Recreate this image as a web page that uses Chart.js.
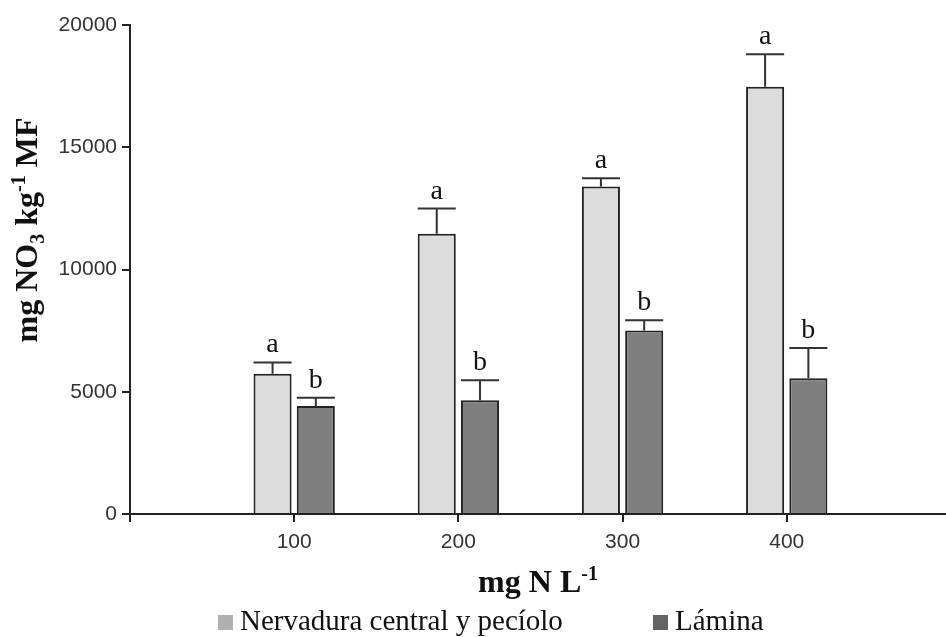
<!DOCTYPE html>
<html>
<head>
<meta charset="utf-8">
<script src="https://cdn.jsdelivr.net/npm/chart.js@4.4.0/dist/chart.umd.min.js"></script>
<style>
  html, body { margin: 0; padding: 0; background: #fff; }
  #wrap { width: 946px; height: 637px; position: relative; }
</style>
</head>
<body>
<div id="wrap"><canvas id="nitrateChart"></canvas></div>
<script>
// DATA
const doses = [100, 200, 300, 400];
const seriesNames = ["Nervadura central y pecíolo", "Lámina"];
const nervadura = [5740, 11460, 13390, 17470];
const nervaduraErr = [460, 1030, 340, 1330];
const nervaduraLetters = ["a", "a", "a", "a"];
const lamina = [4420, 4650, 7510, 5550];
const laminaErr = [330, 820, 410, 1240];
const laminaLetters = ["b", "b", "b", "b"];
const yTicks = [0, 5000, 10000, 15000, 20000];

const SERIF = "'Liberation Serif', 'Times New Roman', serif";
const SANS = "'Liberation Sans', Arial, sans-serif";
const INK = "#222";

// text with sub/superscript pieces, drawn left to right from x
function richWidth(ctx, parts, size) {
    let w = 0;
    parts.forEach(p => {
        ctx.font = (p.bold ? "bold " : "") + ((p.sub || p.sup) ? Math.round(size * 0.62) : size) + "px " + SERIF;
        w += ctx.measureText(p.t).width;
    });
    return w;
}

function drawRich(ctx, parts, x, y, size) {
    parts.forEach(p => {
        const s = (p.sub || p.sup) ? Math.round(size * 0.62) : size;
        ctx.font = (p.bold ? "bold " : "") + s + "px " + SERIF;
        let dy = 0;
        if (p.sub) dy = size * 0.22;
        if (p.sup) dy = -size * 0.38;
        ctx.fillText(p.t, x, y + dy);
        x += ctx.measureText(p.t).width;
    });
}

// error bars (upper only) + significance letters
const errorBars = {
    id: "errorBars",
    afterDatasetsDraw(chart) {
        const ctx = chart.ctx;
        const yScale = chart.scales.y;
        ctx.save();
        chart.data.datasets.forEach((ds, i) => {
            const meta = chart.getDatasetMeta(i);
            meta.data.forEach((bar, j) => {
                const v = ds.data[j].y;
                const capY = yScale.getPixelForValue(v + ds.errors[j]);
                const half = bar.width / 2;
                ctx.strokeStyle = "#333";
                ctx.lineWidth = 2;
                ctx.beginPath();
                ctx.moveTo(bar.x, bar.y);
                ctx.lineTo(bar.x, capY);
                ctx.moveTo(bar.x - half, capY);
                ctx.lineTo(bar.x + half, capY);
                ctx.stroke();

                ctx.fillStyle = "#111";
                ctx.font = "28px " + SERIF;
                ctx.textAlign = "center";
                ctx.textBaseline = "alphabetic";
                ctx.fillText(ds.letters[j], bar.x, capY - 10);
            });
        });
        ctx.restore();
    }
};

// axis titles and legend
const titlesAndLegend = {
    id: "titlesAndLegend",
    afterDraw(chart) {
        const ctx = chart.ctx;
        const area = chart.chartArea;
        ctx.save();
        ctx.fillStyle = "#111";
        ctx.textAlign = "left";
        ctx.textBaseline = "alphabetic";

        // x title
        const xParts = [{ t: "mg N L", bold: true }, { t: "-1", bold: true, sup: true }];
        const xw = richWidth(ctx, xParts, 32);
        drawRich(ctx, xParts, (area.left + area.right) / 2 - xw / 2, 592, 32);

        // y title
        const yParts = [
            { t: "mg NO", bold: true }, { t: "3", bold: true, sub: true },
            { t: " kg", bold: true }, { t: "-1", bold: true, sup: true },
            { t: " MF", bold: true }
        ];
        const yw = richWidth(ctx, yParts, 32);
        ctx.save();
        ctx.translate(37, 230);
        ctx.rotate(-Math.PI / 2);
        drawRich(ctx, yParts, -yw / 2, 0, 32);
        ctx.restore();

        // legend
        const swatches = ["#b0b0b0", "#646464"];
        const itemX = [218, 653];
        seriesNames.forEach((name, i) => {
            ctx.fillStyle = swatches[i];
            ctx.fillRect(itemX[i], 615, 15, 15);
            ctx.fillStyle = "#111";
            ctx.font = "29px " + SERIF;
            ctx.fillText(name, itemX[i] + 22, 630);
        });
        ctx.restore();
    }
};

const axisGrid = {
    drawOnChartArea: false,
    drawTicks: true,
    offset: false,
    tickLength: 8,
    color: INK,
    lineWidth: 2
};

new Chart(document.getElementById("nitrateChart"), {
    type: "bar",
    data: {
        datasets: [
            {
                label: seriesNames[0],
                data: doses.map((d, i) => ({ x: d, y: nervadura[i] })),
                errors: nervaduraErr,
                letters: nervaduraLetters,
                backgroundColor: "#dcdcdc",
                borderColor: INK,
                borderWidth: 2
            },
            {
                label: seriesNames[1],
                data: doses.map((d, i) => ({ x: d, y: lamina[i] })),
                errors: laminaErr,
                letters: laminaLetters,
                backgroundColor: "#7f7f7f",
                borderColor: INK,
                borderWidth: 2
            }
        ]
    },
    options: {
        responsive: true,
        maintainAspectRatio: false,
        animation: false,
        categoryPercentage: 0.527,
        barPercentage: 0.88,
        layout: { padding: { top: 25, left: 0, right: 0, bottom: 0 } },
        plugins: {
            legend: { display: false },
            tooltip: { enabled: false }
        },
        scales: {
            x: {
                type: "linear",
                offset: false,
                min: 0,
                max: 497,
                afterBuildTicks: s => { s.ticks = [0].concat(doses).map(v => ({ value: v })); },
                ticks: {
                    font: { family: SANS, size: 21 },
                    color: "#333",
                    padding: 8,
                    callback: v => doses.includes(Number(v)) ? String(v) : ""
                },
                grid: axisGrid,
                border: { color: INK, width: 2 },
                afterFit: s => { s.height = 123; }
            },
            y: {
                min: yTicks[0],
                max: yTicks[yTicks.length - 1],
                afterBuildTicks: s => { s.ticks = yTicks.map(v => ({ value: v })); },
                ticks: {
                    font: { family: SANS, size: 21 },
                    color: "#333",
                    padding: 5,
                    callback: v => String(v)
                },
                grid: axisGrid,
                border: { color: INK, width: 2 },
                afterFit: s => { s.width = 130; }
            }
        }
    },
    plugins: [errorBars, titlesAndLegend]
});
</script>
</body>
</html>
